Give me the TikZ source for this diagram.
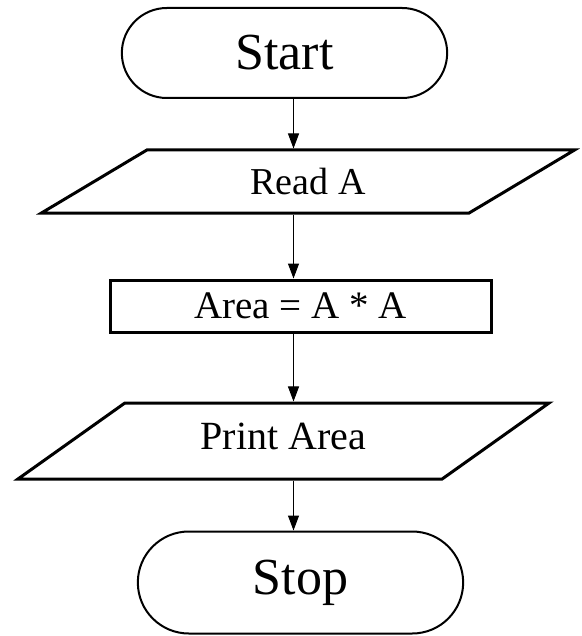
\documentclass[tikz,border=0pt]{standalone}
\usepackage{fontspec}
\setmainfont{Liberation Serif}
\usetikzlibrary{shapes.geometric,shapes.misc,arrows.meta}

\tikzset{
  terminal/.style={rounded rectangle, draw, line width=2pt, minimum width=332pt,
    font=\fontsize{52}{60}\selectfont},
  io/.style={trapezium, trapezium stretches=true, draw, line width=3pt,
    font=\fontsize{38}{44}\selectfont},
  process/.style={rectangle, draw, line width=3pt, minimum width=381pt,
    minimum height=52pt, font=\fontsize{39}{44}\selectfont},
  flow/.style={-{Triangle[length=15pt,width=11pt]}, line width=1pt}
}

\begin{document}
\begin{tikzpicture}[x=1pt,y=1pt]
    \useasboundingbox (0,0) rectangle (581,-636);
    % flowchart boxes
    \node [terminal, minimum height=90pt] (start) at (284.5,-53) {Start};
    \node [io, trapezium left angle=40, trapezium right angle=140,
           minimum width=534pt, minimum height=63pt] (read) at (308,-181.5) {Read A};
    \node [process] (area) at (300.5,-306) {\raisebox{-6pt}{Area = A * A}};
    \node [io, trapezium left angle=36, trapezium right angle=144,
           minimum width=532pt, minimum height=76pt, font=\fontsize{40}{44}\selectfont]
          (print) at (283.5,-441) {\raisebox{9pt}{Print Area}};
    \node [terminal, minimum height=102pt] (stop) at (300.5,-582.5) {Stop};
    % connectors
    \coordinate (axis) at (293.5,0);
    \draw [flow] (start.south -| axis) -- (read.north -| axis);
    \draw [flow] (read.south -| axis) -- (area.north -| axis);
    \draw [flow] (area.south -| axis) -- (print.north -| axis);
    \draw [flow] (print.south -| axis) -- (stop.north -| axis);
\end{tikzpicture}
\end{document}
